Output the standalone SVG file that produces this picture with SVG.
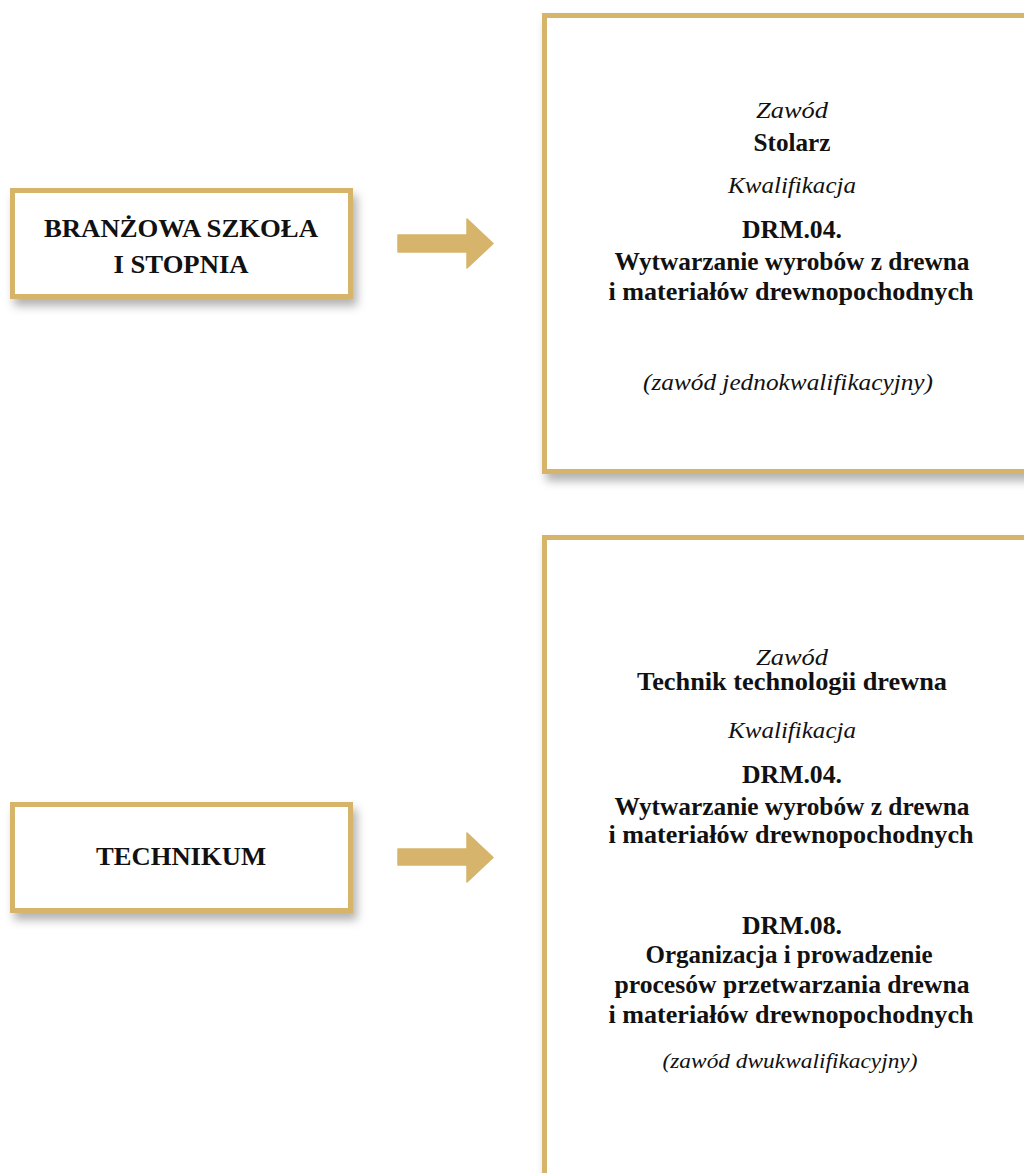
<svg xmlns="http://www.w3.org/2000/svg" width="1024" height="1173" viewBox="0 0 1024 1173">
<defs>
<filter id="sh" x="-10%" y="-20%" width="130%" height="150%">
<feDropShadow dx="4" dy="7" stdDeviation="5" flood-color="#000" flood-opacity="0.3"/>
</filter>
</defs>
<style>
.box{fill:#fff;stroke:#D6B46B;stroke-width:5;filter:url(#sh)}
.arrow{fill:#D6B46B;stroke:#D6B46B;stroke-width:1.5;stroke-linejoin:round}
text{font-family:"Liberation Serif","Times New Roman",serif;fill:#111;text-anchor:middle}
.bl{font-weight:bold;font-size:26px}
.b{font-weight:bold;font-size:25px}
.i{font-style:italic;font-size:24px}
.is{font-style:italic;font-size:22px}
</style>
<rect width="1024" height="1173" fill="#fff"/>
<g id="node-branzowa">
<rect class="box" x="12.5" y="190.5" width="338" height="106"/>
<text class="bl" x="181" y="237" textLength="274" lengthAdjust="spacingAndGlyphs">BRANŻOWA SZKOŁA</text>
<text class="bl" x="181" y="273" textLength="135" lengthAdjust="spacingAndGlyphs">I STOPNIA</text>
</g>
<g id="node-technikum">
<rect class="box" x="12.5" y="804.5" width="338" height="106"/>
<text class="bl" x="181" y="865" textLength="170" lengthAdjust="spacingAndGlyphs">TECHNIKUM</text>
</g>
<g id="node-stolarz">
<rect class="box" x="544.5" y="15.5" width="600" height="456"/>
<text class="i" x="792" y="118" textLength="72" lengthAdjust="spacingAndGlyphs">Zawód</text>
<text class="b" x="792" y="151" textLength="77" lengthAdjust="spacingAndGlyphs">Stolarz</text>
<text class="i" x="792" y="193" textLength="128" lengthAdjust="spacingAndGlyphs">Kwalifikacja</text>
<text class="b" x="792" y="238" textLength="100" lengthAdjust="spacingAndGlyphs">DRM.04.</text>
<text class="b" x="792" y="270" textLength="355" lengthAdjust="spacingAndGlyphs">Wytwarzanie wyrobów z drewna</text>
<text class="b" x="791" y="300" textLength="365" lengthAdjust="spacingAndGlyphs">i materiałów drewnopochodnych</text>
<text class="i" x="788" y="390" textLength="290" lengthAdjust="spacingAndGlyphs">(zawód jednokwalifikacyjny)</text>
</g>
<g id="node-technik">
<rect class="box" x="544.5" y="537.5" width="600" height="700"/>
<text class="i" x="792" y="665" textLength="72" lengthAdjust="spacingAndGlyphs">Zawód</text>
<text class="b" x="792" y="690" textLength="310" lengthAdjust="spacingAndGlyphs">Technik technologii drewna</text>
<text class="i" x="792" y="738" textLength="128" lengthAdjust="spacingAndGlyphs">Kwalifikacja</text>
<text class="b" x="792" y="783" textLength="100" lengthAdjust="spacingAndGlyphs">DRM.04.</text>
<text class="b" x="792" y="815" textLength="355" lengthAdjust="spacingAndGlyphs">Wytwarzanie wyrobów z drewna</text>
<text class="b" x="791" y="843" textLength="365" lengthAdjust="spacingAndGlyphs">i materiałów drewnopochodnych</text>
<text class="b" x="792" y="934" textLength="100" lengthAdjust="spacingAndGlyphs">DRM.08.</text>
<text class="b" x="789" y="963" textLength="287" lengthAdjust="spacingAndGlyphs">Organizacja i prowadzenie</text>
<text class="b" x="792" y="993" textLength="355" lengthAdjust="spacingAndGlyphs">procesów przetwarzania drewna</text>
<text class="b" x="791" y="1023" textLength="365" lengthAdjust="spacingAndGlyphs">i materiałów drewnopochodnych</text>
<text class="is" x="790" y="1068" textLength="255" lengthAdjust="spacingAndGlyphs">(zawód dwukwalifikacyjny)</text>
</g>
<g id="connectors">
<polygon class="arrow" points="398,235 467,235 467,219 493,243.5 467,268 467,252 398,252"/>
<polygon class="arrow" points="398,849 467,849 467,833 493,857.5 467,882 467,865 398,865"/>
</g>
</svg>
